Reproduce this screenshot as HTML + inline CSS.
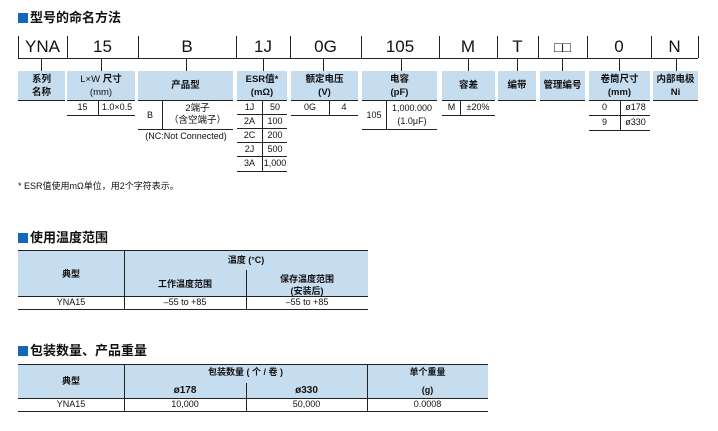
<!DOCTYPE html>
<html><head><meta charset="utf-8"><style>
body{margin:0;width:718px;height:431px;background:#fff;position:relative;overflow:hidden;font-family:"Liberation Sans","Noto Sans CJK SC",sans-serif;color:#111}
.a{position:absolute}
.h{position:absolute;height:1px;background:#222}
.v{position:absolute;width:1px;background:#222}
.bx{position:absolute;background:#c6dcef;border-bottom:1px solid #222;display:flex;align-items:center;justify-content:center;text-align:center;font-size:9.5px;font-weight:bold;line-height:13px}
.c{position:absolute;text-align:center;font-size:9px;line-height:11px}
.code{position:absolute;top:36px;height:22px;text-align:center;font-size:17px;line-height:22px}
.ttl{position:absolute;left:18px;font-size:13px;font-weight:bold;line-height:16px}
.ttl:before{content:"";display:inline-block;width:10px;height:10px;background:#1467b8;margin-right:2px;vertical-align:-1px}
.hb{position:absolute;background:#c6dcef}
</style></head><body>
<div class="ttl" style="top:10px">型号的命名方法</div>
<!-- code row -->
<div class="h" style="left:18px;top:58px;width:680px"></div>
<div class="v" style="left:18px;top:36px;height:22px"></div>
<div class="v" style="left:67px;top:36px;height:22px"></div>
<div class="v" style="left:138px;top:36px;height:22px"></div>
<div class="v" style="left:236px;top:36px;height:22px"></div>
<div class="v" style="left:290px;top:36px;height:22px"></div>
<div class="v" style="left:361px;top:36px;height:22px"></div>
<div class="v" style="left:439px;top:36px;height:22px"></div>
<div class="v" style="left:497px;top:36px;height:22px"></div>
<div class="v" style="left:538px;top:36px;height:22px"></div>
<div class="v" style="left:587px;top:36px;height:22px"></div>
<div class="v" style="left:651px;top:36px;height:22px"></div>
<div class="v" style="left:698px;top:36px;height:22px"></div>
<div class="code" style="left:18px;width:49px">YNA</div>
<div class="code" style="left:67px;width:71px">15</div>
<div class="code" style="left:138px;width:98px">B</div>
<div class="code" style="left:236px;width:54px">1J</div>
<div class="code" style="left:290px;width:71px">0G</div>
<div class="code" style="left:361px;width:78px">105</div>
<div class="code" style="left:439px;width:58px">M</div>
<div class="code" style="left:497px;width:41px">T</div>
<div class="code" style="left:538px;width:49px;font-size:14px">□□</div>
<div class="code" style="left:587px;width:64px">0</div>
<div class="code" style="left:651px;width:47px">N</div>
<!-- ticks -->
<div class="v" style="left:41px;top:58px;height:13px"></div>
<div class="v" style="left:101px;top:58px;height:13px"></div>
<div class="v" style="left:186px;top:58px;height:13px"></div>
<div class="v" style="left:263px;top:58px;height:13px"></div>
<div class="v" style="left:323px;top:58px;height:13px"></div>
<div class="v" style="left:401px;top:58px;height:13px"></div>
<div class="v" style="left:468px;top:58px;height:13px"></div>
<div class="v" style="left:517px;top:58px;height:13px"></div>
<div class="v" style="left:562px;top:58px;height:13px"></div>
<div class="v" style="left:619px;top:58px;height:13px"></div>
<div class="v" style="left:676px;top:58px;height:13px"></div>
<!-- label boxes -->
<div class="bx" style="left:18px;top:71px;width:47px;height:29px">系列<br>名称</div>
<div class="bx" style="left:67px;top:71px;width:68px;height:29px;font-weight:normal"><span>L×W <b>尺寸</b><br>(mm)</span></div>
<div class="bx" style="left:138px;top:71px;width:95px;height:29px">产品型</div>
<div class="bx" style="left:237px;top:71px;width:50px;height:29px">ESR值*<br>(mΩ)</div>
<div class="bx" style="left:291px;top:71px;width:67px;height:29px">额定电压<br>(V)</div>
<div class="bx" style="left:362px;top:71px;width:75px;height:29px">电容<br>(pF)</div>
<div class="bx" style="left:442px;top:71px;width:53px;height:29px">容差</div>
<div class="bx" style="left:498px;top:71px;width:38px;height:29px">编带</div>
<div class="bx" style="left:540px;top:71px;width:45px;height:29px">管理编号</div>
<div class="bx" style="left:589px;top:71px;width:61px;height:29px">卷筒尺寸<br>(mm)</div>
<div class="bx" style="left:653px;top:71px;width:45px;height:29px">内部电极<br>Ni</div>
<!-- LxW -->
<div class="c" style="left:67px;top:102px;width:31px">15</div>
<div class="v" style="left:98px;top:101px;height:14px"></div>
<div class="c" style="left:99px;top:102px;width:36px">1.0×0.5</div>
<div class="h" style="left:67px;top:115px;width:68px"></div>
<!-- product type -->
<div class="c" style="left:138px;top:110px;width:24px">B</div>
<div class="v" style="left:162px;top:101px;height:28px"></div>
<div class="c" style="left:162px;top:103px;width:71px;line-height:12px;font-size:9.5px">2端子<br>（含空端子）</div>
<div class="h" style="left:138px;top:129px;width:95px"></div>
<div class="c" style="left:136px;top:131px;width:100px">(NC:Not Connected)</div>
<!-- ESR -->
<div class="v" style="left:262px;top:101px;height:70px"></div>
<div class="c" style="left:237px;top:102px;width:25px">1J</div><div class="c" style="left:263px;top:102px;width:24px">50</div>
<div class="h" style="left:237px;top:114px;width:50px"></div>
<div class="c" style="left:237px;top:116px;width:25px">2A</div><div class="c" style="left:263px;top:116px;width:24px">100</div>
<div class="h" style="left:237px;top:128px;width:50px"></div>
<div class="c" style="left:237px;top:130px;width:25px">2C</div><div class="c" style="left:263px;top:130px;width:24px">200</div>
<div class="h" style="left:237px;top:142px;width:50px"></div>
<div class="c" style="left:237px;top:144px;width:25px">2J</div><div class="c" style="left:263px;top:144px;width:24px">500</div>
<div class="h" style="left:237px;top:156px;width:50px"></div>
<div class="c" style="left:237px;top:158px;width:25px">3A</div><div class="c" style="left:263px;top:158px;width:24px">1,000</div>
<div class="h" style="left:237px;top:171px;width:50px"></div>
<!-- voltage -->
<div class="c" style="left:291px;top:102px;width:38px">0G</div>
<div class="v" style="left:329px;top:101px;height:14px"></div>
<div class="c" style="left:330px;top:102px;width:28px">4</div>
<div class="h" style="left:291px;top:115px;width:67px"></div>
<!-- capacitance -->
<div class="c" style="left:362px;top:110px;width:24px">105</div>
<div class="v" style="left:386px;top:101px;height:29px"></div>
<div class="c" style="left:387px;top:102px;width:50px;line-height:13px">1,000.000<br>(1.0μF)</div>
<div class="h" style="left:362px;top:129px;width:75px"></div>
<!-- tolerance -->
<div class="c" style="left:442px;top:102px;width:19px">M</div>
<div class="v" style="left:460px;top:101px;height:14px"></div>
<div class="c" style="left:461px;top:102px;width:34px">±20%</div>
<div class="h" style="left:442px;top:115px;width:53px"></div>
<!-- reel -->
<div class="c" style="left:589px;top:102px;width:31px">0</div>
<div class="c" style="left:621px;top:102px;width:29px">ø178</div>
<div class="v" style="left:620px;top:101px;height:29px"></div>
<div class="h" style="left:589px;top:115px;width:61px"></div>
<div class="c" style="left:589px;top:117px;width:31px">9</div>
<div class="c" style="left:621px;top:117px;width:29px">ø330</div>
<div class="h" style="left:589px;top:130px;width:61px"></div>
<div class="a" style="left:18px;top:179px;font-size:9px">* ESR值使用mΩ单位，用2个字符表示。</div>

<!-- temperature table -->
<div class="ttl" style="top:230px">使用温度范围</div>
<div class="hb" style="left:18px;top:250px;width:350px;height:46px"></div>
<div class="h" style="left:18px;top:250px;width:350px"></div>
<div class="h" style="left:18px;top:296px;width:350px"></div>
<div class="h" style="left:18px;top:309px;width:350px"></div>
<div class="v" style="left:124px;top:250px;height:59px"></div>
<div class="v" style="left:246px;top:270px;height:39px"></div>
<div class="c" style="left:18px;top:269px;width:106px;font-weight:bold">典型</div>
<div class="c" style="left:124px;top:255px;width:244px;font-weight:bold">温度 (°C)</div>
<div class="c" style="left:124px;top:279px;width:122px;font-weight:bold">工作温度范围</div>
<div class="c" style="left:246px;top:273px;width:122px;font-weight:bold;line-height:12px">保存温度范围<br>(安装后)</div>
<div class="c" style="left:18px;top:297px;width:106px">YNA15</div>
<div class="c" style="left:124px;top:297px;width:122px">–55 to +85</div>
<div class="c" style="left:246px;top:297px;width:122px">–55 to +85</div>

<!-- packaging table -->
<div class="ttl" style="top:343px">包装数量、产品重量</div>
<div class="hb" style="left:18px;top:364px;width:470px;height:35px"></div>
<div class="h" style="left:18px;top:364px;width:470px"></div>
<div class="h" style="left:18px;top:398px;width:470px"></div>
<div class="h" style="left:18px;top:411px;width:470px"></div>
<div class="v" style="left:124px;top:364px;height:47px"></div>
<div class="v" style="left:367px;top:364px;height:47px"></div>
<div class="v" style="left:246px;top:383px;height:28px"></div>
<div class="c" style="left:18px;top:376px;width:106px;font-weight:bold">典型</div>
<div class="c" style="left:124px;top:367px;width:243px;font-weight:bold">包装数量 ( 个 / 卷 )</div>
<div class="c" style="left:124px;top:385px;width:122px;font-weight:bold;font-size:10px">ø178</div>
<div class="c" style="left:246px;top:385px;width:121px;font-weight:bold;font-size:10px">ø330</div>
<div class="c" style="left:367px;top:367px;width:121px;font-weight:bold">单个重量</div>
<div class="c" style="left:367px;top:385px;width:121px;font-weight:bold">(g)</div>
<div class="c" style="left:18px;top:399px;width:106px">YNA15</div>
<div class="c" style="left:124px;top:399px;width:122px">10,000</div>
<div class="c" style="left:246px;top:399px;width:121px">50,000</div>
<div class="c" style="left:367px;top:399px;width:121px">0.0008</div>
</body></html>
